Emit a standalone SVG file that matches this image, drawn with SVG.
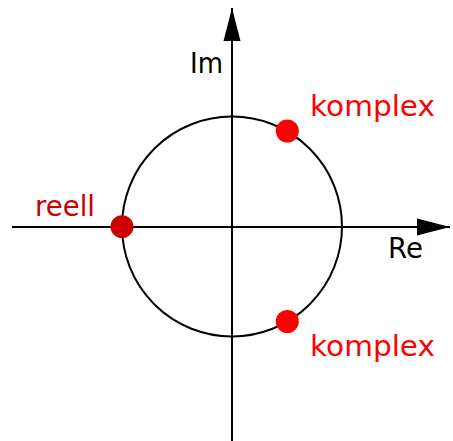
<svg xmlns="http://www.w3.org/2000/svg" width="453" height="441" viewBox="0 0 453 441">
  <style>
    .axis { stroke: #000; stroke-width: 2; fill: none; }
    .circ { stroke: #000; stroke-width: 2; fill: none; }
    .lbl { font-family: "DejaVu Sans", "Liberation Sans", sans-serif; font-size: 29px; }
    .blk { fill: #000; }
    .red { fill: #ff0000; }
    .dred { fill: #cc0000; }
  </style>
  <defs>
    <marker id="arrow" markerUnits="userSpaceOnUse" markerWidth="34" markerHeight="18" refX="33" refY="9" orient="auto">
      <path d="M0,0.5 L33,9 L0,17.5 Z" fill="#000"/>
    </marker>
  </defs>
  <rect width="453" height="441" fill="#fff"/>
  <g id="connectors">
    <line class="axis" x1="12" y1="227" x2="450" y2="227" marker-end="url(#arrow)"/>
    <line class="axis" x1="232" y1="441" x2="232" y2="8" marker-end="url(#arrow)"/>
  </g>
  <g id="unit-circle">
    <circle class="circ" cx="232" cy="226.5" r="110"/>
  </g>
  <g id="label-im">
    <text class="lbl blk" x="190" y="73" textLength="33" lengthAdjust="spacingAndGlyphs">Im</text>
  </g>
  <g id="label-re">
    <text class="lbl blk" x="388" y="258" textLength="35" lengthAdjust="spacingAndGlyphs">Re</text>
  </g>
  <g id="pole-real">
    <circle class="dred" cx="122" cy="226.7" r="11.5"/>
    <text class="lbl dred" x="35" y="216" textLength="60" lengthAdjust="spacingAndGlyphs">reell</text>
  </g>
  <g id="pole-complex-upper">
    <circle class="red" cx="287.3" cy="131" r="11.5"/>
    <text class="lbl red" x="310" y="116" textLength="125" lengthAdjust="spacingAndGlyphs">komplex</text>
  </g>
  <g id="pole-complex-lower">
    <circle class="red" cx="287.3" cy="321.5" r="11.5"/>
    <text class="lbl red" x="310" y="356" textLength="125" lengthAdjust="spacingAndGlyphs">komplex</text>
  </g>
</svg>
